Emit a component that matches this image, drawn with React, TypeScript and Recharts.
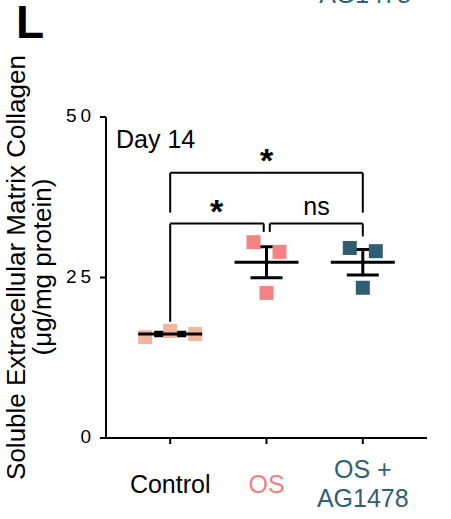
import React from 'react';
import { ComposedChart, Scatter, XAxis, YAxis, ErrorBar, ReferenceLine } from 'recharts';

const categories = ['Control', 'OS', 'OS + AG1478'];
const categoryColors = ['#000000', '#F08080', '#2F6074'];
const pointColors = ['#F2B5A0', '#F38383', '#2E5E70'];
const controlValues = [15.7, 16.7, 16.2];
const osValues = [30.5, 29.0, 22.6];
const agValues = [29.6, 29.1, 23.4];
const controlJitter = [-0.26, 0, 0.26];
const osJitter = [-0.135, 0.135, 0];
const agJitter = [-0.135, 0.135, 0];
const yTicks = [0, 25, 50];
const xTicks = [1, 2, 3];

const brackets = [
  [{ x: 1, y: 35.1 }, { x: 1, y: 41.3 }, { x: 3, y: 41.3 }, { x: 3, y: 35.1 }],
  [{ x: 1, y: 18.1 }, { x: 1, y: 33.4 }, { x: 1.971, y: 33.4 }, { x: 1.971, y: 32.1 }],
  [{ x: 2.034, y: 32.1 }, { x: 2.034, y: 33.4 }, { x: 3, y: 33.4 }, { x: 3, y: 31.4 }],
];
const sigLabels = [
  { x: 2, y: 43.6, label: '*' },
  { x: 1.483, y: 35.7, label: '*' },
  { x: 2.52, y: 36.1, label: 'ns' },
];

const FONT = '"Liberation Sans", Arial, sans-serif';

function mean(a: number[]) {
  return a.reduce((s, v) => s + v, 0) / a.length;
}
function sem(a: number[]) {
  const m = mean(a);
  const sd = Math.sqrt(a.reduce((s, v) => s + (v - m) ** 2, 0) / (a.length - 1));
  return sd / Math.sqrt(a.length);
}

const groups = [controlValues, osValues, agValues];
const jitters = [controlJitter, osJitter, agJitter];
const pointSeries = groups.map((vals, gi) =>
  vals.map((v, i) => ({ x: gi + 1 + jitters[gi][i], y: v }))
);
const meanData = groups.map((vals, gi) => ({ x: gi + 1, y: mean(vals), err: sem(vals) }));

const Square = (props: any) => {
  const { cx, cy, fill } = props;
  return <rect x={cx - 7} y={cy - 7} width={14} height={14} fill={fill} />;
};
const MeanLine = (props: any) => {
  const { cx, cy } = props;
  return <line x1={cx - 32} x2={cx + 32} y1={cy} y2={cy} stroke="#000" strokeWidth={3} />;
};
const SigText = (props: any) => {
  const { cx, cy, payload } = props;
  const star = payload.label === '*';
  return (
    <text
      x={cx}
      y={star ? cy + 14 : cy + 9}
      textAnchor="middle"
      fontFamily={FONT}
      fontSize={star ? 34 : 25}
      fontWeight={star ? 'bold' : 'normal'}
      fill="#000"
    >
      {payload.label}
    </text>
  );
};

const YTick = (props: any) => {
  const { x, y, payload } = props;
  const s = String(payload.value);
  const right = x - 7;
  return (
    <g>
      {s.split('').map((ch, i) => (
        <text
          key={i}
          x={right - (s.length - 1 - i) * 14.5}
          y={y + 5}
          textAnchor="end"
          fontFamily={FONT}
          fontSize={19}
          fill="#000"
        >
          {ch}
        </text>
      ))}
    </g>
  );
};

const XTick = (props: any) => {
  const { x, y, payload } = props;
  const idx = xTicks.indexOf(payload.value);
  const name = categories[idx];
  const color = categoryColors[idx];
  if (name.includes('+')) {
    const parts = name.split('+ ');
    return (
      <text textAnchor="middle" fontFamily={FONT} fontSize={25} fill={color}>
        <tspan x={x} y={y + 32}>{parts[0] + '+'}</tspan>
        <tspan x={x} y={y + 61}>{parts[1]}</tspan>
      </text>
    );
  }
  return (
    <text x={x} y={y + 47} textAnchor="middle" fontFamily={FONT} fontSize={25} fill={color}>
      {name}
    </text>
  );
};

export default function App() {
  return (
    <div style={{ position: 'absolute', left: 0, top: 0, width: 451, height: 519, background: '#fff' }}>
      <ComposedChart
        width={451}
        height={519}
        margin={{ top: 117, right: 24, left: 0, bottom: 0 }}
      >
        <XAxis
          type="number"
          dataKey="x"
          domain={[1 / 3, 11 / 3]}
          ticks={xTicks}
          tickSize={6}
          tickLine={{ stroke: '#000', strokeWidth: 2 }}
          axisLine={{ stroke: '#000', strokeWidth: 2 }}
          tick={<XTick />}
          height={81}
          allowDataOverflow
        />
        <YAxis
          type="number"
          dataKey="y"
          domain={[0, 50]}
          ticks={yTicks}
          tickSize={6}
          tickLine={{ stroke: '#000', strokeWidth: 2 }}
          axisLine={{ stroke: '#000', strokeWidth: 2 }}
          tick={<YTick />}
          width={106}
        />
        {brackets.flatMap((pts, bi) =>
          pts.slice(1).map((p, i) => (
            <ReferenceLine
              key={`b${bi}-${i}`}
              segment={[pts[i], p]}
              stroke="#000"
              strokeWidth={2}
              ifOverflow="visible"
            />
          ))
        )}
        {pointSeries.map((d, gi) => (
          <Scatter key={`p${gi}`} data={d} fill={pointColors[gi]} shape={<Square />} isAnimationActive={false} />
        ))}
        <Scatter data={meanData} shape={<MeanLine />} isAnimationActive={false}>
          <ErrorBar dataKey="err" direction="y" width={16} strokeWidth={3} stroke="#000" />
        </Scatter>
        <Scatter data={sigLabels} shape={<SigText />} isAnimationActive={false} />
      </ComposedChart>
      <svg
        width={451}
        height={519}
        style={{ position: 'absolute', left: 0, top: 0, pointerEvents: 'none' }}
      >
        <text x={365} y={3} textAnchor="middle" fontFamily={FONT} fontSize={25} fill="#2F6074">AG1478</text>
        <text x={16} y={38} fontFamily={FONT} fontSize={46} fontWeight="bold" fill="#000">L</text>
        <text x={116} y={148} fontFamily={FONT} fontSize={25} fill="#000">Day 14</text>
        <g transform="translate(25, 267.5) rotate(-90)">
          <text x={0} y={0} textAnchor="middle" fontFamily={FONT} fontSize={26} fill="#000">
            Soluble Extracellular Matrix Collagen
          </text>
        </g>
        <g transform="translate(51, 267) rotate(-90)">
          <text x={0} y={0} textAnchor="middle" fontFamily={FONT} fontSize={26} fill="#000">
            (μg/mg protein)
          </text>
        </g>
      </svg>
    </div>
  );
}
